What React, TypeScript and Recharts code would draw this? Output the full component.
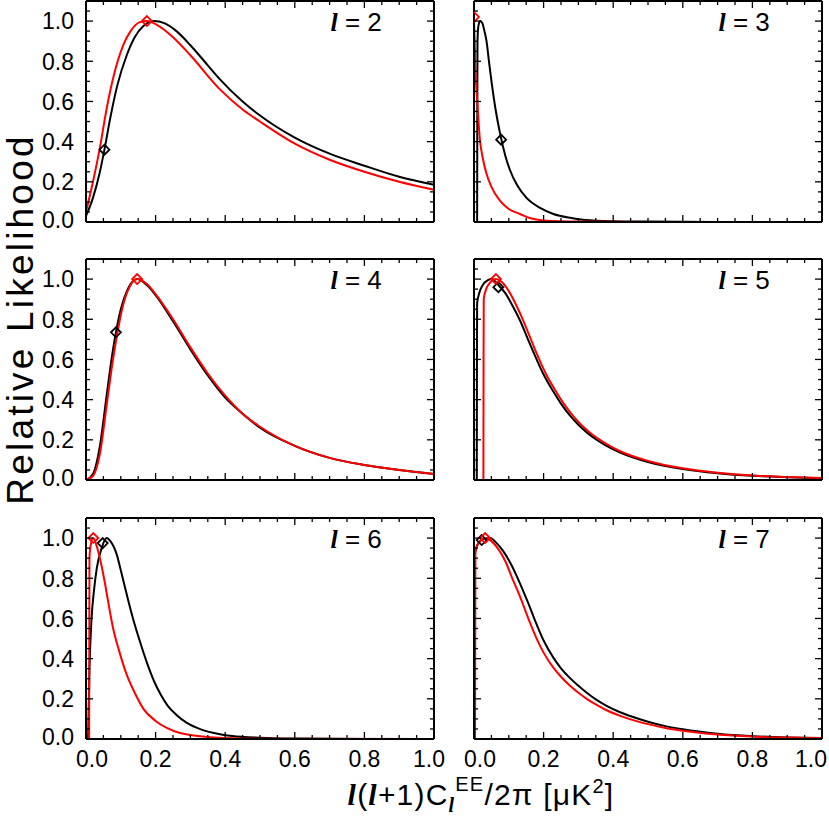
import { LineChart, Line, XAxis, YAxis } from 'recharts'

type Pt = [number, number]

// tick positions (major every 0.2, minor every 0.05)
const xTicks = [0, 0.05, 0.1, 0.15, 0.2, 0.25, 0.3, 0.35, 0.4, 0.45, 0.5, 0.55, 0.6, 0.65, 0.7, 0.75, 0.8, 0.85, 0.9, 0.95, 1.0]
const yTicks = [0, 0.05, 0.1, 0.15, 0.2, 0.25, 0.3, 0.35, 0.4, 0.45, 0.5, 0.55, 0.6, 0.65, 0.7, 0.75, 0.8, 0.85, 0.9, 0.95, 1.0, 1.05]

// l = 2
const l2Black: Pt[] = [[0, 0.03], [0.02, 0.12], [0.04, 0.25], [0.053, 0.36], [0.07, 0.52], [0.09, 0.68], [0.117, 0.83], [0.14, 0.92], [0.165, 0.975], [0.195, 1.0], [0.225, 0.99], [0.26, 0.95], [0.3, 0.88], [0.35, 0.78], [0.385, 0.71], [0.45, 0.6], [0.5, 0.53], [0.6, 0.42], [0.7, 0.34], [0.8, 0.28], [0.9, 0.225], [1.0, 0.185]]
const l2Red: Pt[] = [[0, 0.05], [0.02, 0.2], [0.04, 0.37], [0.06, 0.57], [0.08, 0.73], [0.107, 0.88], [0.13, 0.955], [0.155, 0.995], [0.175, 1.0], [0.2, 0.985], [0.25, 0.92], [0.3, 0.83], [0.385, 0.66], [0.45, 0.56], [0.5, 0.5], [0.6, 0.39], [0.7, 0.31], [0.8, 0.25], [0.9, 0.2], [1.0, 0.16]]
const l2Marks: Pt[] = [[0.053, 0.36], [0.175, 1.0]]

// l = 3
const l3Black: Pt[] = [[0.009, 0], [0.0095, 0.5], [0.01, 0.9], [0.013, 0.98], [0.018, 1.0], [0.024, 0.99], [0.03, 0.95], [0.036, 0.9], [0.043, 0.8], [0.051, 0.69], [0.062, 0.56], [0.075, 0.44], [0.09, 0.33], [0.103, 0.26], [0.125, 0.18], [0.151, 0.12], [0.19, 0.07], [0.228, 0.04], [0.28, 0.02], [0.32, 0.01], [0.4, 0.004], [0.5, 0.002], [0.7, 0.0005], [1.0, 0]]
const l3Red: Pt[] = [[0, 1.0], [0.002, 0.9], [0.004, 0.76], [0.007, 0.66], [0.0095, 0.6], [0.013, 0.5], [0.017, 0.41], [0.025, 0.32], [0.036, 0.24], [0.05, 0.175], [0.075, 0.105], [0.1, 0.065], [0.132, 0.04], [0.16, 0.02], [0.2, 0.008], [0.3, 0.002], [0.5, 0], [1.0, 0]]
const l3Marks: Pt[] = [[0.078, 0.41], [0, 1.02]]

// l = 4
const l4Black: Pt[] = [[0, 0], [0.02, 0.03], [0.04, 0.17], [0.06, 0.43], [0.075, 0.62], [0.086, 0.735], [0.1, 0.85], [0.12, 0.95], [0.147, 1.0], [0.175, 0.97], [0.2, 0.92], [0.25, 0.79], [0.3, 0.65], [0.35, 0.52], [0.4, 0.41], [0.45, 0.33], [0.5, 0.26], [0.6, 0.17], [0.7, 0.11], [0.8, 0.075], [0.9, 0.05], [1.0, 0.03]]
const l4Red: Pt[] = [[0, 0], [0.02, 0.02], [0.04, 0.13], [0.06, 0.38], [0.075, 0.57], [0.09, 0.73], [0.105, 0.86], [0.125, 0.96], [0.147, 1.0], [0.175, 0.975], [0.2, 0.925], [0.25, 0.8], [0.3, 0.66], [0.35, 0.53], [0.4, 0.42], [0.45, 0.33], [0.5, 0.265], [0.6, 0.17], [0.7, 0.11], [0.8, 0.075], [0.9, 0.05], [1.0, 0.03]]
const l4Marks: Pt[] = [[0.086, 0.735], [0.147, 1.0]]

// l = 5
const l5Black: Pt[] = [[0.008, 0], [0.0085, 0.6], [0.009, 0.88], [0.015, 0.93], [0.025, 0.97], [0.04, 0.995], [0.051, 1.0], [0.07, 0.97], [0.09, 0.93], [0.11, 0.87], [0.132, 0.795], [0.155, 0.7], [0.18, 0.6], [0.2, 0.525], [0.228, 0.44], [0.25, 0.38], [0.276, 0.32], [0.3, 0.275], [0.324, 0.237], [0.35, 0.203], [0.381, 0.17], [0.42, 0.137], [0.5, 0.09], [0.6, 0.055], [0.7, 0.034], [0.8, 0.021], [0.9, 0.014], [1.0, 0.009]]
const l5Red: Pt[] = [[0.027, 0], [0.0275, 0.6], [0.028, 0.9], [0.035, 0.95], [0.045, 0.98], [0.063, 1.0], [0.08, 0.985], [0.1, 0.94], [0.12, 0.875], [0.14, 0.8], [0.16, 0.715], [0.18, 0.63], [0.209, 0.52], [0.23, 0.457], [0.26, 0.375], [0.29, 0.308], [0.33, 0.24], [0.38, 0.18], [0.42, 0.143], [0.5, 0.095], [0.6, 0.058], [0.7, 0.036], [0.8, 0.022], [0.9, 0.015], [1.0, 0.01]]
const l5Marks: Pt[] = [[0.07, 0.96], [0.063, 1.0]]

// l = 6
const l6Black: Pt[] = [[0.006, 0], [0.01, 0.35], [0.016, 0.6], [0.023, 0.74], [0.031, 0.85], [0.045, 0.95], [0.059, 1.0], [0.07, 0.985], [0.088, 0.92], [0.1, 0.84], [0.117, 0.72], [0.135, 0.6], [0.155, 0.485], [0.175, 0.38], [0.195, 0.29], [0.215, 0.22], [0.235, 0.165], [0.26, 0.12], [0.29, 0.08], [0.33, 0.048], [0.385, 0.024], [0.42, 0.015], [0.5, 0.006], [0.6, 0.002], [0.8, 0], [1.0, 0]]
const l6Red: Pt[] = [[0.009, 0], [0.0095, 0.5], [0.01, 0.9], [0.013, 0.96], [0.021, 1.0], [0.028, 0.975], [0.035, 0.935], [0.045, 0.86], [0.055, 0.77], [0.065, 0.67], [0.078, 0.55], [0.095, 0.44], [0.117, 0.32], [0.14, 0.23], [0.165, 0.15], [0.2, 0.09], [0.232, 0.055], [0.27, 0.03], [0.3, 0.02], [0.35, 0.01], [0.4, 0.005], [0.5, 0.001], [1.0, 0]]
const l6Marks: Pt[] = [[0.048, 0.975], [0.021, 1.0]]

// l = 7
const l7Black: Pt[] = [[0.001, 0], [0.0015, 0.5], [0.002, 0.9], [0.006, 0.95], [0.015, 0.98], [0.03, 0.997], [0.046, 1.0], [0.065, 0.975], [0.084, 0.935], [0.105, 0.875], [0.132, 0.775], [0.155, 0.68], [0.18, 0.57], [0.2, 0.49], [0.228, 0.405], [0.25, 0.352], [0.276, 0.303], [0.3, 0.265], [0.324, 0.23], [0.35, 0.197], [0.381, 0.165], [0.42, 0.133], [0.477, 0.098], [0.5, 0.086], [0.55, 0.064], [0.6, 0.048], [0.7, 0.026], [0.8, 0.014], [0.9, 0.008], [1.0, 0.005]]
const l7Red: Pt[] = [[0.003, 0], [0.0035, 0.5], [0.004, 0.93], [0.01, 0.965], [0.02, 0.99], [0.032, 1.0], [0.05, 0.985], [0.07, 0.945], [0.09, 0.885], [0.11, 0.8], [0.132, 0.71], [0.155, 0.605], [0.18, 0.5], [0.2, 0.43], [0.228, 0.355], [0.25, 0.31], [0.276, 0.265], [0.3, 0.23], [0.324, 0.2], [0.35, 0.172], [0.381, 0.143], [0.42, 0.115], [0.477, 0.084], [0.5, 0.074], [0.55, 0.055], [0.6, 0.041], [0.7, 0.022], [0.8, 0.012], [0.9, 0.007], [1.0, 0.004]]
const l7Marks: Pt[] = [[0.022, 0.99], [0.032, 1.0]]

const RED = '#ff0000'
const FONT = '"Liberation Sans", Arial, Helvetica, sans-serif'
const PLOT_W = 348
const PLOT_H = 221
const colLeft = [86, 474]
const rowTop = [1, 259, 518]
const ML = 86
const MR = 30
const MB = 60

const toRows = (pts: Pt[]) => pts.map(([x, y]) => ({ x, y }))
const isMajor = (v: number) => Math.abs(v * 5 - Math.round(v * 5)) < 1e-6

function Diamond(props: any) {
  const { cx, cy, stroke } = props
  if (cx == null || cy == null) return null
  const r = 5
  return (
    <polygon
      points={`${cx},${cy - r} ${cx + r},${cy} ${cx},${cy + r} ${cx - r},${cy}`}
      fill="none"
      stroke={stroke}
      strokeWidth={1.8}
    />
  )
}

function makeXTick(showLabels: boolean, lastShift: number) {
  return (props: any) => {
    const { x, y, payload } = props
    const v = payload.value
    const major = isMajor(v)
    const len = major ? 7 : 4
    // end labels sit slightly inside the frame, like the original
    const shift = v === 0 ? 6 : v === 1 ? lastShift : 0
    return (
      <g>
        <line x1={x} x2={x} y1={y} y2={y - len} stroke="#000" strokeWidth={1.3} />
        <line x1={x} x2={x} y1={y - PLOT_H} y2={y - PLOT_H + len} stroke="#000" strokeWidth={1.3} />
        {showLabels && major && (
          <text x={x + shift} y={y + 28} textAnchor="middle" fontSize={23} fontFamily={FONT} fill="#000">
            {v.toFixed(1)}
          </text>
        )}
      </g>
    )
  }
}

function makeYTick(showLabels: boolean) {
  return (props: any) => {
    const { x, y, payload } = props
    const v = payload.value
    const major = isMajor(v)
    const len = major ? 7 : 4
    const shift = v === 0 ? -2 : 0
    return (
      <g>
        <line x1={x} x2={x + len} y1={y} y2={y} stroke="#000" strokeWidth={1.3} />
        <line x1={x + PLOT_W} x2={x + PLOT_W - len} y1={y} y2={y} stroke="#000" strokeWidth={1.3} />
        {showLabels && major && (
          <text x={x - 12} y={y + shift} dy="0.36em" textAnchor="end" fontSize={23} fontFamily={FONT} fill="#000">
            {v.toFixed(1)}
          </text>
        )}
      </g>
    )
  }
}

interface PanelProps {
  ell: number
  black: Pt[]
  red: Pt[]
  marks: Pt[]
  col: number
  row: number
}

function Panel({ ell, black, red, marks, col, row }: PanelProps) {
  const left = colLeft[col] - ML
  const top = rowTop[row] - 1
  const width = ML + PLOT_W + MR
  const height = 1 + PLOT_H + MB
  const xLabels = row === 2
  const yLabels = col === 0
  const border = { stroke: '#000', strokeWidth: 2 }
  return (
    <div style={{ position: 'absolute', left, top, width, height }}>
      <LineChart width={width} height={height} margin={{ top: 0, right: MR - 1, bottom: MB - 1, left: ML - 1 }}>
        <XAxis
          type="number"
          dataKey="x"
          domain={[0, 1]}
          allowDataOverflow
          ticks={xTicks}
          interval={0}
          height={1}
          tickSize={0}
          tickMargin={0}
          tickLine={false}
          axisLine={border}
          tick={makeXTick(xLabels, col === 1 ? -11 : -5)}
        />
        <XAxis xAxisId="top" orientation="top" type="number" domain={[0, 1]} height={1} tick={false} tickLine={false} axisLine={border} />
        <YAxis
          type="number"
          dataKey="y"
          domain={[0, 1.1]}
          allowDataOverflow
          ticks={yTicks}
          interval={0}
          width={1}
          tickSize={0}
          tickMargin={0}
          tickLine={false}
          axisLine={border}
          tick={makeYTick(yLabels)}
        />
        <YAxis yAxisId="right" orientation="right" type="number" domain={[0, 1.1]} width={1} tick={false} tickLine={false} axisLine={border} />
        <Line data={toRows(black)} dataKey="y" type="monotone" stroke="#000" strokeWidth={2} dot={false} isAnimationActive={false} />
        <Line data={toRows(red)} dataKey="y" type="monotone" stroke={RED} strokeWidth={2} dot={false} isAnimationActive={false} />
        <Line data={toRows([marks[0]])} dataKey="y" stroke="#000" dot={<Diamond />} isAnimationActive={false} />
        <Line data={toRows([marks[1]])} dataKey="y" stroke={RED} dot={<Diamond />} isAnimationActive={false} />
      </LineChart>
      <div
        style={{
          position: 'absolute',
          left: ML + PLOT_W * 0.85 - 200,
          width: 200,
          textAlign: 'right',
          top: 7,
          fontFamily: FONT,
          fontSize: 26,
          lineHeight: '30px',
          whiteSpace: 'nowrap',
        }}
      >
        <span style={{ fontFamily: '"Liberation Serif", serif', fontStyle: 'italic', fontWeight: 'bold' }}>l</span> = {ell}
      </div>
    </div>
  )
}

const L = ({ children }: { children: any }) => (
  <tspan fontFamily='"Liberation Serif", serif' fontStyle="italic" fontWeight="bold">{children}</tspan>
)

export default function App() {
  return (
    <div style={{ position: 'absolute', left: 0, top: 0, width: 829, height: 818, background: '#fff', overflow: 'hidden' }}>
      <Panel ell={2} black={l2Black} red={l2Red} marks={l2Marks} col={0} row={0} />
      <Panel ell={3} black={l3Black} red={l3Red} marks={l3Marks} col={1} row={0} />
      <Panel ell={4} black={l4Black} red={l4Red} marks={l4Marks} col={0} row={1} />
      <Panel ell={5} black={l5Black} red={l5Red} marks={l5Marks} col={1} row={1} />
      <Panel ell={6} black={l6Black} red={l6Red} marks={l6Marks} col={0} row={2} />
      <Panel ell={7} black={l7Black} red={l7Red} marks={l7Marks} col={1} row={2} />
      <svg width={829} height={818} style={{ position: 'absolute', left: 0, top: 0, pointerEvents: 'none' }}>
        <text x={0} y={0} transform="translate(33, 319) rotate(-90)" textAnchor="middle" fontSize={37} letterSpacing={3.2} fontFamily={FONT} fill="#000">
          Relative Likelihood
        </text>
        <text x={481} y={805} textAnchor="middle" fontSize={30} letterSpacing={1.2} fontFamily={FONT} fill="#000">
          <L>l</L>(<L>l</L>+1)C
          <tspan dy={7} fontSize={20}><L>l</L></tspan>
          <tspan dy={-21} fontSize={20}>EE</tspan>
          <tspan dy={14}>/2π [μK</tspan>
          <tspan dy={-12} fontSize={20}>2</tspan>
          <tspan dy={12}>]</tspan>
        </text>
      </svg>
    </div>
  )
}
